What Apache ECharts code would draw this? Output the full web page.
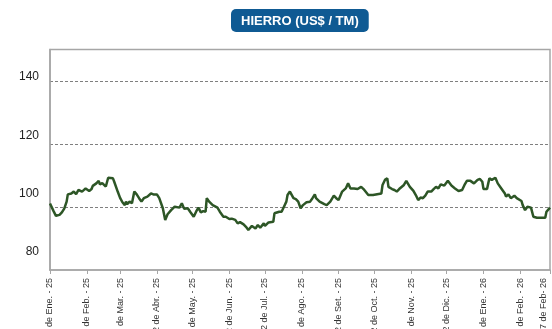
<!DOCTYPE html>
<html>
<head>
<meta charset="utf-8">
<style>
  html, body { margin: 0; padding: 0; background: #ffffff; }
  #chart { width: 552px; height: 329px; }
</style>
<script src="https://cdn.jsdelivr.net/npm/echarts@6/dist/echarts.min.js"></script>
</head>
<body>
<div id="chart"></div>
<script>
// Iron ore price, US$ per metric tonne
const dates = [
  '2025-01-02','2025-01-05','2025-01-07','2025-01-10','2025-01-12','2025-01-14','2025-01-16','2025-01-17',
  '2025-01-20','2025-01-21','2025-01-22','2025-01-24','2025-01-26','2025-01-29',
  '2025-02-01','2025-02-04','2025-02-06','2025-02-07','2025-02-10','2025-02-12','2025-02-13','2025-02-15',
  '2025-02-18','2025-02-20','2025-02-24','2025-02-25','2025-02-28',
  '2025-03-02','2025-03-04','2025-03-06','2025-03-07','2025-03-08','2025-03-10','2025-03-12','2025-03-14',
  '2025-03-16','2025-03-18','2025-03-20','2025-03-22','2025-03-25','2025-03-28','2025-03-30',
  '2025-04-02','2025-04-04','2025-04-07','2025-04-09','2025-04-11','2025-04-14','2025-04-17','2025-04-21',
  '2025-04-23','2025-04-25','2025-04-28','2025-04-30',
  '2025-05-03','2025-05-05','2025-05-07','2025-05-09','2025-05-11','2025-05-13','2025-05-14','2025-05-16',
  '2025-05-19','2025-05-23','2025-05-25','2025-05-28','2025-05-30',
  '2025-06-02','2025-06-04','2025-06-07','2025-06-09','2025-06-11','2025-06-14','2025-06-16','2025-06-18',
  '2025-06-21','2025-06-24','2025-06-26','2025-06-28',
  '2025-07-01','2025-07-02','2025-07-05','2025-07-09','2025-07-10','2025-07-14','2025-07-16','2025-07-18',
  '2025-07-20','2025-07-21','2025-07-23','2025-07-24','2025-07-26','2025-07-28','2025-07-30',
  '2025-08-01','2025-08-03','2025-08-06','2025-08-09','2025-08-11','2025-08-13','2025-08-14','2025-08-17',
  '2025-08-21','2025-08-23','2025-08-26','2025-08-29','2025-08-31',
  '2025-09-02','2025-09-05','2025-09-08','2025-09-10','2025-09-12','2025-09-15','2025-09-18','2025-09-21',
  '2025-09-23','2025-09-27',
  '2025-10-01','2025-10-08','2025-10-09','2025-10-11','2025-10-13','2025-10-14','2025-10-17','2025-10-19',
  '2025-10-21','2025-10-23','2025-10-27','2025-10-29',
  '2025-11-01','2025-11-04','2025-11-06','2025-11-08','2025-11-10','2025-11-12','2025-11-14','2025-11-16',
  '2025-11-19','2025-11-21','2025-11-23','2025-11-25','2025-11-27','2025-11-30',
  '2025-12-03','2025-12-06','2025-12-09','2025-12-10','2025-12-12','2025-12-15','2025-12-17','2025-12-19',
  '2025-12-22','2025-12-25','2025-12-28','2025-12-30',
  '2026-01-01','2026-01-02','2026-01-05','2026-01-06','2026-01-07','2026-01-09','2026-01-12','2026-01-14',
  '2026-01-17','2026-01-20','2026-01-21','2026-01-23','2026-01-25','2026-01-28','2026-01-30','2026-01-31',
  '2026-02-03','2026-02-04','2026-02-06','2026-02-08','2026-02-11','2026-02-13','2026-02-16','2026-02-23',
  '2026-02-24','2026-02-27'
];

const prices = [
  101.1, 98.7, 97.2, 97.5, 98.3, 99.5, 101.7, 104.0,
  104.3, 103.8, 104.9, 104.1, 105.4, 104.9,
  105.9, 105.1, 105.7, 106.7, 107.5, 108.3, 107.2, 107.6,
  106.5, 109.3, 109.1, 108.1, 104.9,
  102.9, 101.5, 100.6, 101.7, 100.9, 101.7, 101.2, 104.9,
  104.0, 102.8, 101.7, 102.8, 103.3, 104.3, 104.0,
  104.0, 102.8, 99.6, 95.9, 97.7, 99.0, 100.1, 99.8,
  101.2, 99.4, 99.6, 98.5,
  96.9, 98.5, 99.8, 98.3, 98.7, 98.5, 102.8, 101.7,
  100.6, 99.8, 98.5, 96.9, 96.9,
  96.2, 96.3, 95.9, 94.8, 95.2, 94.5, 93.7, 92.7,
  94.0, 93.2, 94.3, 93.4,
  94.8, 94.0, 95.1, 95.3, 98.0, 98.5, 98.5, 100.1,
  101.7, 103.8, 104.9, 104.4, 102.8, 102.5, 101.7,
  99.6, 100.6, 101.5, 101.7, 102.8, 104.0, 102.8, 101.7,
  100.9, 100.6, 101.7, 103.6, 102.8,
  102.2, 104.9, 105.9, 107.5, 105.9, 105.9, 105.7, 106.4,
  105.7, 103.8,
  103.8, 104.3, 107.0, 108.6, 109.1, 106.4, 105.7, 105.4,
  104.9, 105.7, 107.0, 108.3,
  106.4, 105.1, 103.8, 102.2, 103.0, 102.8, 103.6, 104.9,
  104.9, 105.7, 106.4, 105.9, 107.2, 106.8,
  108.3, 106.8, 105.9, 106.4, 105.1, 105.4, 107.0, 108.3,
  108.3, 107.5, 108.6, 108.9,
  108.0, 105.7, 105.7, 107.5, 109.1, 108.6, 109.3, 107.5,
  105.9, 104.3, 103.3, 104.0, 102.8, 103.6, 102.8, 103.0,
  101.9, 100.6, 99.0, 100.1, 99.8, 96.9, 96.6, 96.6,
  98.5, 99.8
];

// Dated tick labels along the bottom axis
const tickDates = [
  '2025-01-02','2025-02-02','2025-03-02','2025-04-02','2025-05-02','2025-06-02','2025-07-02',
  '2025-08-02','2025-09-02','2025-10-02','2025-11-02','2025-12-02','2026-01-02','2026-02-02','2026-02-27'
];
const tickLabels = [
  '2 de Ene. - 25','2 de Feb. - 25','2 de Mar. - 25','2 de Abr. - 25','2 de May. - 25','2 de Jun. - 25',
  '2 de Jul. - 25','2 de Ago. - 25','2 de Set. - 25','2 de Oct. - 25','2 de Nov. - 25','2 de Dic. - 25',
  '2 de Ene. - 26','2 de Feb. - 26','27 de Feb- 26'
];

// Value axis labels
const yLabels = [80, 100, 120, 140];

function toTime(s) {
  const p = s.split('-').map(Number);
  return new Date(p[0], p[1] - 1, p[2]).getTime();
}

const tickTimes = tickDates.map(toTime);
const labelByTime = {};
tickTimes.forEach((t, i) => { labelByTime[t] = tickLabels[i]; });
const lastTickTime = tickTimes[tickTimes.length - 1];

const labelFont = 'Liberation Sans, Arial, sans-serif';

const chart = echarts.init(document.getElementById('chart'), null, { renderer: 'canvas' });

chart.setOption({
  animation: false,
  backgroundColor: '#ffffff',
  title: {
    text: 'HIERRO (US$ / TM)',
    left: 231,
    top: 9,
    backgroundColor: '#0f5a93',
    borderRadius: 5,
    padding: [5, 10, 4, 10],
    textStyle: {
      color: '#ffffff',
      fontFamily: labelFont,
      fontWeight: 'bold',
      fontSize: 13,
      lineHeight: 14
    }
  },
  grid: {
    left: 50,
    right: 2,
    top: 49.5,
    bottom: 59,
    show: true,
    borderColor: '#a6a6a6',
    borderWidth: 1.5,
    outerBoundsMode: 'none'
  },
  xAxis: {
    type: 'value',
    min: toTime(dates[0]),
    max: toTime(dates[dates.length - 1]),
    axisLine: { show: true, lineStyle: { color: '#a6a6a6', width: 1.5 } },
    axisTick: {
      show: true,
      length: 4,
      customValues: tickTimes,
      lineStyle: { color: '#a6a6a6', width: 1 }
    },
    splitLine: { show: false },
    axisLabel: {
      customValues: tickTimes,
      rotate: 90,
      margin: 8,
      color: '#333333',
      fontSize: 9,
      fontFamily: labelFont,
      hideOverlap: false,
      showMinLabel: true,
      showMaxLabel: true,
      formatter: function (value) {
        const text = labelByTime[value] || '';
        // the closing label is nudged inward so it stays inside the canvas
        return value === lastTickTime ? '{end|' + text + '}' : text;
      },
      rich: {
        end: {
          fontSize: 9,
          fontFamily: labelFont,
          color: '#333333',
          padding: [0, 0, 12, 0]
        }
      }
    }
  },
  yAxis: [
    {
      type: 'value',
      min: 80,
      max: 150,
      interval: 20,
      axisLine: { show: true, lineStyle: { color: '#a6a6a6', width: 1.5 } },
      axisTick: { show: false },
      axisLabel: { show: false },
      splitLine: {
        show: true,
        showMinLine: false,
        showMaxLine: false,
        lineStyle: { color: '#7f7f7f', width: 1, type: [3, 2] }
      }
    },
    {
      type: 'value',
      position: 'left',
      min: 73.83,
      max: 149.43,
      axisLine: { show: false },
      axisTick: { show: false },
      splitLine: { show: false },
      axisLabel: {
        customValues: yLabels,
        margin: 11,
        color: '#222222',
        fontSize: 12,
        fontFamily: labelFont
      }
    }
  ],
  series: [
    {
      type: 'line',
      yAxisIndex: 0,
      data: dates.map((d, i) => [toTime(d), prices[i]]),
      showSymbol: false,
      symbol: 'none',
      smooth: false,
      lineStyle: { color: '#2d5626', width: 2.5 },
      silent: true
    }
  ]
});
</script>
</body>
</html>
